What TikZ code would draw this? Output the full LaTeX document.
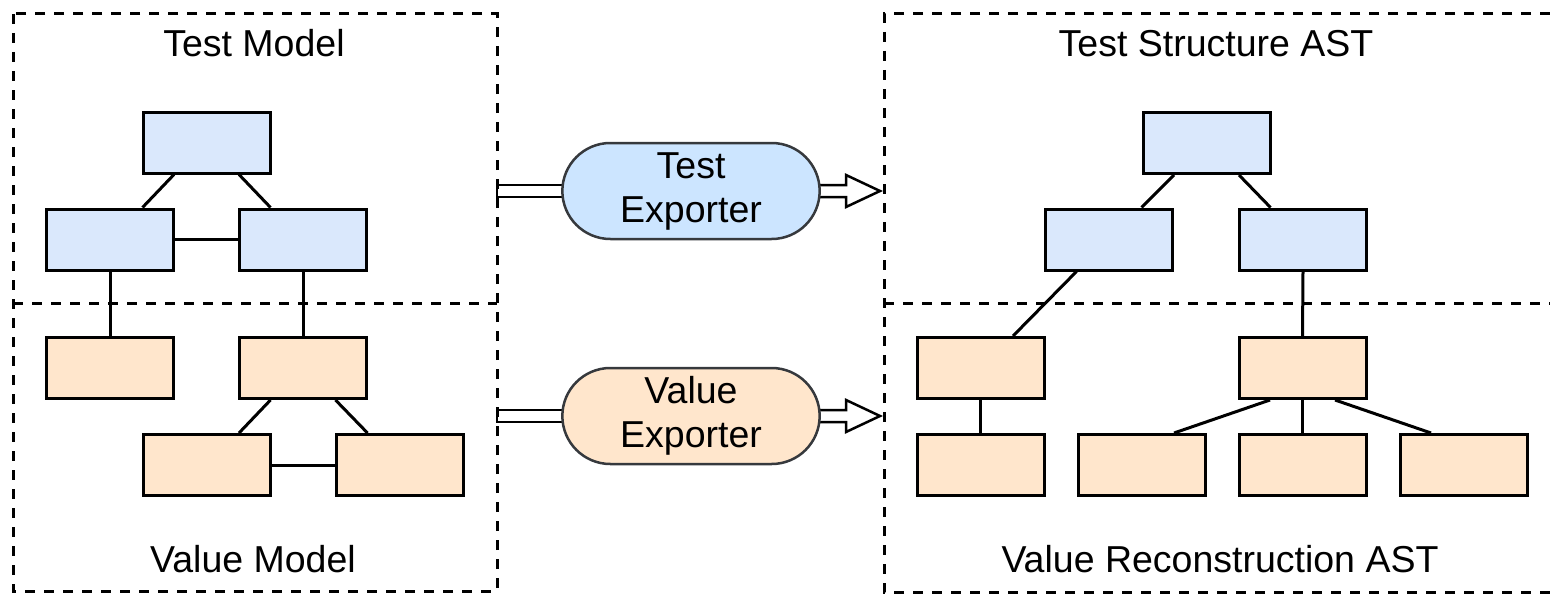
\documentclass[tikz,border=0pt]{standalone}
\usepackage{fontspec}
\setmainfont{Liberation Sans}
\usetikzlibrary{calc,positioning,backgrounds,shapes.misc}
\definecolor{bluebox}{HTML}{DAE8FC}
\definecolor{orangebox}{HTML}{FFE6CC}
\definecolor{bluepill}{HTML}{CCE5FF}
\definecolor{pilledge}{HTML}{36393D}
\tikzset{
  blk/.style={draw,line width=3pt,minimum width=127pt,minimum height=61pt,inner sep=0pt},
  tblk/.style={blk,fill=bluebox},
  vblk/.style={blk,fill=orangebox},
  frame/.style={line width=3pt,dash pattern=on 10pt off 9pt},
  link/.style={line width=3pt},
  pill/.style={rounded rectangle,draw=pilledge,line width=2.5pt,minimum width=264pt,minimum height=96pt,align=center,font=\fontsize{37.5}{44}\selectfont},
  ttl/.style={font=\fontsize{37.5}{43}\selectfont,anchor=base},
  hollow/.style={draw,line width=2.5pt,fill=white,line join=miter}
}
\begin{document}
\begin{tikzpicture}[x=1pt,y=-1pt]
                      \useasboundingbox (0,0) rectangle (1550,594);
                      \draw[frame] (13,14) rectangle (497,591);
                      \draw[frame] (13,303) -- (497,303);
                      \draw[frame] (1550,14) -- (884,14) -- (884,592) -- (1550,592);
                      \draw[frame] (884,303) -- (1550,303);
                      \node[ttl](tm)at(254,57){Test Model};
                      \node[ttl](vm)at(253,572){Value Model};
                      \node[ttl](ts)at(1216,57){Test Structure AST};
                      \node[ttl](vr)at(1220,572){Value Reconstruction AST};
                      \node[tblk](t0)at(206.5,142.5){};
                      \node[tblk](t1)at(110,239.5){};
                      \node[tblk](t2)at(303,239.5){};
                      \node[vblk](v1)at(110,368){};
                      \node[vblk](v2)at(303,368){};
                      \node[vblk](v3)at(206.5,465){};
                      \node[vblk](v4)at(400,465){};
                      \draw[link]($(t0.south west)!.25!(t0.south east)$)--($(t1.north west)!.75!(t1.north east)$);
                      \draw[link]($(t0.south west)!.75!(t0.south east)$)--($(t2.north west)!.25!(t2.north east)$);
                      \draw[link](t1)--(t2);
                      \draw[link](t1.south)--(v1.north);
                      \draw[link](t2.south)--(v2.north);
                      \draw[link]($(v2.south west)!.25!(v2.south east)$)--($(v3.north west)!.75!(v3.north east)$);
                      \draw[link]($(v2.south west)!.75!(v2.south east)$)--($(v4.north west)!.25!(v4.north east)$);
                      \draw[link](v3)--(v4);
                      \node[tblk](s0)at(1206.5,143){};
                      \node[tblk](s1)at(1109,239.5){};
                      \node[tblk](s2)at(1303,239.5){};
                      \node[vblk](r1)at(980.5,368){};
                      \node[vblk](r2)at(1302.5,368){};
                      \node[vblk](q1)at(980.5,465){};
                      \node[vblk](q2)at(1141.5,465){};
                      \node[vblk](q3)at(1302.5,465){};
                      \node[vblk](q4)at(1463.5,465){};
                      \draw[link]($(s0.south west)!.25!(s0.south east)$)--($(s1.north west)!.75!(s1.north east)$);
                      \draw[link]($(s0.south west)!.75!(s0.south east)$)--($(s2.north west)!.25!(s2.north east)$);
                      \draw[link]($(s1.south west)!.25!(s1.south east)$)--($(r1.north west)!.75!(r1.north east)$);
                      \draw[link](s2.south)--(r2.north);
                      \draw[link](r1.south)--(q1.north);
                      \draw[link]($(r2.south west)!.25!(r2.south east)$)--($(q2.north west)!.75!(q2.north east)$);
                      \draw[link](r2.south)--(q3.north);
                      \draw[link]($(r2.south west)!.75!(r2.south east)$)--($(q4.north west)!.25!(q4.north east)$);
                      \node[pill,fill=bluepill](te)at(691,191){Test\\Exporter};
                      \node[pill,fill=orangebox](ve)at(691,416){Value\\Exporter};
                      \coordinate(tin)at(497,191);
                      \coordinate(tout)at(880,191);
                      \coordinate(vin)at(497,416);
                      \coordinate(vout)at(880,416);
                      \begin{scope}[on background layer]
                      \draw[hollow]($(tin)+(0,-6)$)--($(te.west)+(5,-6)$)--($(te.west)+(5,6)$)--($(tin)+(0,6)$)--cycle;
                      \draw[hollow]($(te.east)+(-5,-6)$)--($(tout)+(-34,-6)$)--($(tout)+(-34,-16)$)--(tout)--($(tout)+(-34,16)$)--($(tout)+(-34,6)$)--($(te.east)+(-5,6)$)--cycle;
                      \draw[hollow]($(vin)+(0,-6)$)--($(ve.west)+(5,-6)$)--($(ve.west)+(5,6)$)--($(vin)+(0,6)$)--cycle;
                      \draw[hollow]($(ve.east)+(-5,-6)$)--($(vout)+(-34,-6)$)--($(vout)+(-34,-16)$)--(vout)--($(vout)+(-34,16)$)--($(vout)+(-34,6)$)--($(ve.east)+(-5,6)$)--cycle;
                      \end{scope}
                  \end{tikzpicture}
\end{document}
